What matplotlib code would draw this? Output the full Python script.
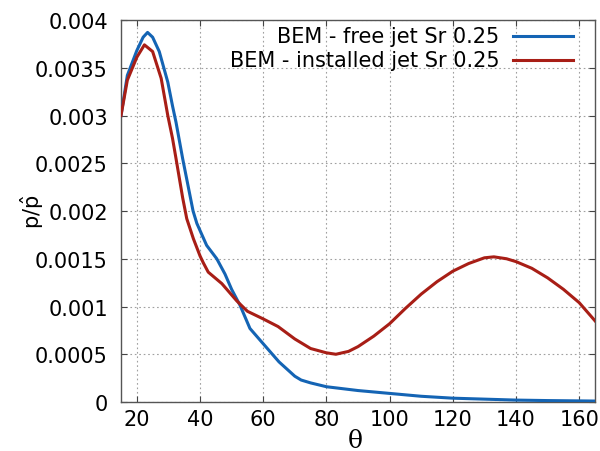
import matplotlib
matplotlib.use("Agg")
import matplotlib.pyplot as plt
from matplotlib.lines import Line2D

plt.rcParams['font.family'] = ['DejaVu Sans']
plt.rcParams['mathtext.fontset'] = 'dejavusans'

# Data
theta_free = [15, 17, 20, 22, 23.4, 25, 27.1, 29.8, 31.3, 32.4, 34.5, 37.8, 39, 42.1, 45.3,
              47.9, 50, 52.7, 55.8, 60, 65, 70, 72, 75, 80, 90, 100, 110, 120, 130, 140,
              150, 165]
p_free = [0.0030, 0.00342, 0.00368, 0.00382, 0.00387, 0.00382, 0.00367, 0.00335, 0.00310,
          0.00293, 0.00255, 0.00200, 0.00187, 0.00164, 0.00150, 0.00134, 0.00118, 0.00101,
          0.00077, 0.00061, 0.00042, 0.00027, 0.00023, 0.00020, 0.00016, 0.00012, 0.00009,
          0.00006, 0.00004, 0.00003, 0.00002, 0.000015, 0.00001]

theta_inst = [15, 17, 20, 22.4, 25, 27.7, 29.8, 31.3, 32.4, 34.5, 35.8, 37.9, 40, 41, 42.6,
              46.9, 51.6, 55, 60, 64.7, 70, 75, 80, 83, 87, 90, 95, 100, 105, 110, 115, 120,
              125, 130, 133, 137, 140, 145, 150, 155, 160, 165]
p_inst = [0.0030, 0.00337, 0.00361, 0.00374, 0.00367, 0.00339, 0.00300, 0.00276, 0.00255,
          0.00214, 0.00192, 0.00171, 0.00153, 0.00146, 0.00136, 0.00124, 0.00106, 0.00095,
          0.00087, 0.00079, 0.00066, 0.00056, 0.000515, 0.00050, 0.00053, 0.00058, 0.00069,
          0.00082, 0.00098, 0.00113, 0.00126, 0.00137, 0.00145, 0.00151, 0.00152, 0.00150,
          0.00147, 0.00140, 0.00130, 0.00118, 0.00104, 0.00085]

labels = ["BEM - free jet Sr 0.25", "BEM - installed jet Sr 0.25"]
colors = ["#1464b4", "#a81e16"]

fig = plt.figure(figsize=(6.0, 4.52), dpi=100)
ax = fig.add_axes([0.2017, 0.1084, 0.79, 0.8451])

ax.plot(theta_free, p_free, color=colors[0], lw=2.2, zorder=3)
ax.plot(theta_inst, p_inst, color=colors[1], lw=2.2, zorder=3)

ax.set_xlim(15, 165)
ax.set_ylim(0, 0.004)
ax.set_xticks([20, 40, 60, 80, 100, 120, 140, 160])
ax.set_yticks([0, 0.0005, 0.001, 0.0015, 0.002, 0.0025, 0.003, 0.0035, 0.004])
ax.set_yticklabels(["0", "0.0005", "0.001", "0.0015", "0.002", "0.0025", "0.003", "0.0035", "0.004"])
ax.grid(True, color="#a0a0a0", linestyle=(0, (1.5, 2.5)), linewidth=0.8)
ax.tick_params(axis='both', direction='in', labelsize=15, length=4, width=0.8,
               top=True, right=True, colors="#444444", labelcolor="black")
ax.tick_params(axis='y', pad=9.5)
ax.tick_params(axis='x', pad=5)
for s in ax.spines.values():
    s.set_color("#555555")
    s.set_linewidth(1.0)

ax.set_xlabel("θ", family=['DejaVu Serif'], fontsize=18, va='baseline')
ax.xaxis.set_label_coords(0.494, -0.118)
ax.set_ylabel(r"$\mathrm{p}/\hat{\mathrm{p}}$", fontsize=15, va='center')
ax.yaxis.set_label_coords(-0.188, 0.5)

# legend (right-aligned texts, samples on the right)
for i, (lab, c) in enumerate(zip(labels, colors)):
    yy = 0.959 - i * 0.063
    ax.text(0.799, yy, lab, transform=ax.transAxes, ha='right', va='center', fontsize=15)
    ax.add_line(Line2D([0.827, 0.954], [yy, yy], transform=ax.transAxes, color=c, lw=2.2))

fig.savefig("out.png", dpi=100)
